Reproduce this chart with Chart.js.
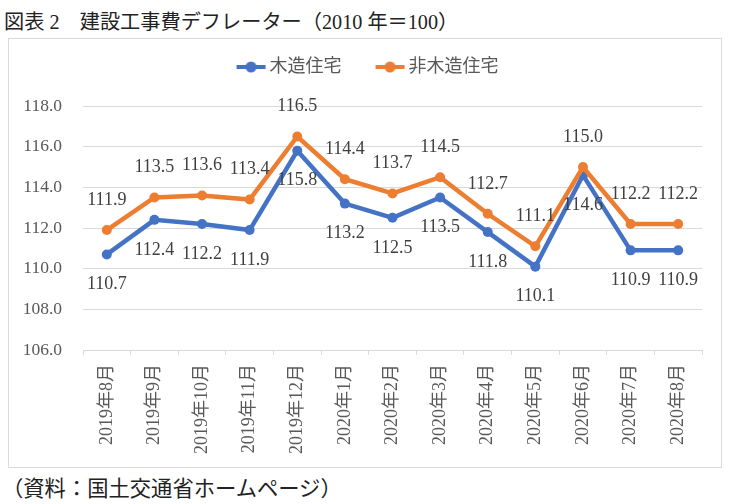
<!DOCTYPE html>
<html><head><meta charset="utf-8">
<script src="https://cdn.jsdelivr.net/npm/chart.js@4/dist/chart.umd.min.js"></script>
<style>
body{margin:0;background:#fff;width:729px;height:504px;position:relative;overflow:hidden;font-family:'Liberation Serif','Noto Sans CJK JP',serif;color:#222;}
#title{position:absolute;left:4px;top:6px;font-size:20.2px;white-space:pre;}
#box{position:absolute;left:8px;top:38px;width:712px;height:428px;border:1px solid #d9d9d9;}
#foot{position:absolute;left:2px;top:471px;font-size:21.3px;white-space:pre;}
</style></head>
<body>
<div id="title">図表 2　建設工事費デフレーター（2010 年＝100）</div>
<div id="box"><canvas id="c" width="712" height="428"></canvas></div>
<div id="foot">（資料：国土交通省ホームページ）</div>
<script>
const categories = ['2019年8月','2019年9月','2019年10月','2019年11月','2019年12月','2020年1月','2020年2月','2020年3月','2020年4月','2020年5月','2020年6月','2020年7月','2020年8月'];
const seriesNames = ['木造住宅','非木造住宅'];
const woodValues = [110.7,112.4,112.2,111.9,115.8,113.2,112.5,113.5,111.8,110.1,114.6,110.9,110.9];
const nonWoodValues = [111.9,113.5,113.6,113.4,116.5,114.4,113.7,114.5,112.7,111.1,115.0,112.2,112.2];
const yMin = 106, yMax = 118, yStep = 2;

const BLUE = '#4472C4', ORANGE = '#ED7D31';
const FONT = "'Liberation Serif','Noto Sans CJK JP',serif";
const LEG_FONT = 18;
const BOXW = 48;

function legendIcon(color){
  // image is wider than the legend box so the icon sits right next to the text
  const W = BOXW + LEG_FONT/2 + 5;
  const c = document.createElement('canvas');
  c.width = W; c.height = 12;
  const g = c.getContext('2d');
  const x1 = W - 2, x0 = x1 - 29;
  g.strokeStyle = color; g.lineWidth = 4;
  g.beginPath(); g.moveTo(x0,6); g.lineTo(x1,6); g.stroke();
  g.fillStyle = color; g.beginPath(); g.arc((x0+x1)/2,6,5.5,0,Math.PI*2); g.fill();
  return c;
}
const icons = [legendIcon(BLUE), legendIcon(ORANGE)];

const labelPlugin = {
  id:'valueLabels',
  afterDatasetsDraw(chart){
    const ctx = chart.ctx;
    ctx.save();
    ctx.font = '18px ' + FONT;
    ctx.fillStyle = '#404040';
    ctx.textAlign = 'center';
    ctx.textBaseline = 'middle';
    chart.data.datasets.forEach((ds, i) => {
      const meta = chart.getDatasetMeta(i);
      const dir = ds.labelDir;
      meta.data.forEach((pt, j) => {
        ctx.fillText(ds.data[j].toFixed(1), pt.x, pt.y + dir * 30);
      });
    });
    ctx.restore();
  }
};

new Chart(document.getElementById('c'), {
  type:'line',
  data:{
    labels: categories,
    datasets:[
      {label:seriesNames[0], data:woodValues, borderColor:BLUE, backgroundColor:BLUE, borderWidth:4.5, pointRadius:5, pointBorderWidth:0, pointBackgroundColor:BLUE, order:1, labelDir:1},
      {label:seriesNames[1], data:nonWoodValues, borderColor:ORANGE, backgroundColor:ORANGE, borderWidth:4.5, pointRadius:5, pointBorderWidth:0, pointBackgroundColor:ORANGE, order:0, labelDir:-1}
    ]
  },
  options:{
    responsive:false,
    animation:false,
    layout:{padding:{top:9,left:0,right:19,bottom:0}},
    plugins:{
      tooltip:{enabled:false},
      legend:{
        position:'top',
        labels:{
          font:{family:FONT,size:LEG_FONT},
          color:'#595959',
          usePointStyle:true,
          pointStyleWidth:BOXW,
          padding:10,
          sort:(a,b)=>a.datasetIndex-b.datasetIndex,
          generateLabels(chart){
            return chart.data.datasets.map((ds,i)=>({
              text:ds.label, pointStyle:icons[i], fillStyle:ds.borderColor, strokeStyle:ds.borderColor,
              lineWidth:0, datasetIndex:i, hidden:false, fontColor:'#595959'
            }));
          }
        }
      },
      subtitle:{display:true, text:' ', position:'top', weight:100, font:{size:1}, padding:{top:18.8,bottom:0}}
    },
    scales:{
      x:{
        offset:true,
        grid:{display:true, drawOnChartArea:false, drawTicks:true, tickLength:5, offset:true, color:'#d9d9d9'},
        border:{display:true, color:'#d9d9d9', width:1},
        ticks:{font:{family:FONT,size:18}, color:'#595959', minRotation:90, maxRotation:90, autoSkip:false, padding:9},
        afterFit(s){ s.height = 117; }
      },
      y:{
        min:yMin, max:yMax,
        grid:{color:'#d9d9d9', drawTicks:false, lineWidth:1},
        border:{display:false},
        ticks:{stepSize:yStep, font:{family:FONT,size:17.5}, color:'#595959', padding:21, callback:v=>v.toFixed(1)},
        afterFit(s){ s.width = 74; }
      }
    }
  },
  plugins:[labelPlugin]
});
</script>
</body></html>
